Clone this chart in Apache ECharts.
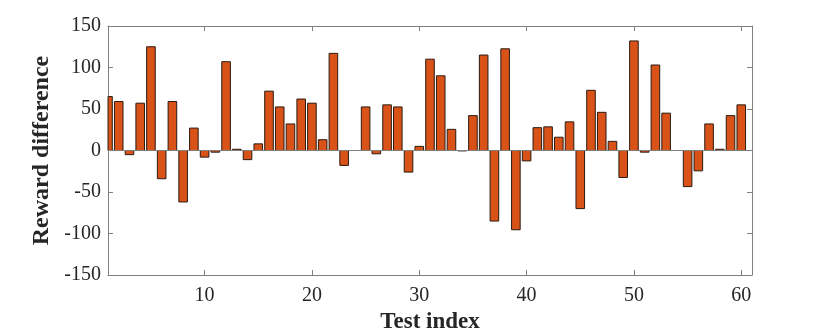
<!DOCTYPE html>
<html>
<head>
<meta charset="utf-8">
<script src="https://cdn.jsdelivr.net/npm/echarts@6/dist/echarts.min.js"></script>
<style>
  html, body { margin: 0; padding: 0; background: #fff; }
  #chart { width: 831px; height: 335px; }
</style>
</head>
<body>
<div id="chart"></div>
<script>
// test index 1..60
const testIndex = [
  1, 2, 3, 4, 5, 6, 7, 8, 9, 10,
  11, 12, 13, 14, 15, 16, 17, 18, 19, 20,
  21, 22, 23, 24, 25, 26, 27, 28, 29, 30,
  31, 32, 33, 34, 35, 36, 37, 38, 39, 40,
  41, 42, 43, 44, 45, 46, 47, 48, 49, 50,
  51, 52, 53, 54, 55, 56, 57, 58, 59, 60
]
// reward difference
const rewardDiff = [
  65, 59, -5, 57, 125, -34, 59, -62, 27, -8,
  -2, 107, 1.5, -11, 8, 71.5, 52.5, 32, 62, 57,
  13, 117, -18, 0, 52.5, -4, 55, 52.5, -26, 5,
  110, 90, 25.5, -0.5, 42, 115, -85, 122.5, -95.5, -12.5,
  27.5, 28.5, 16, 34.5, -70, 72.5, 46, 11, -32.5, 132,
  -2, 103, 45, 0, -43.5, -24.5, 32, 1.5, 42, 55
]
const xTicks = [10, 20, 30, 40, 50, 60]

const axisGrey = '#808080'
const textColor = '#262626'
const serif = '"Liberation Serif", "DejaVu Serif", serif'
const barHalf = 0.4   // bar width 0.8 in x units, like matlab bar()

function addChart(dom, option) {
    let myChart = echarts.init(dom);
    myChart.setOption(option);
    window.addEventListener("resize", function () {
        myChart.resize();
    });
    return myChart;
}

let barData = testIndex.map((x, i) => [x, rewardDiff[i]])

// bars as custom rects so the first one gets cut at the axis like the original
function renderBar(params, api) {
    let x = api.value(0)
    let y = api.value(1)
    if (y === 0) return null
    let p0 = api.coord([x - barHalf, 0])
    let p1 = api.coord([x + barHalf, y])
    let rect = {
        x: p0[0],
        y: Math.min(p0[1], p1[1]),
        width: p1[0] - p0[0],
        height: Math.abs(p1[1] - p0[1])
    }
    let cs = params.coordSys
    let shape = echarts.graphic.clipRectByRect(rect, { x: cs.x, y: cs.y, width: cs.width, height: cs.height })
    if (!shape) return null
    return {
        type: 'rect',
        shape: shape,
        style: { fill: '#D95319', stroke: '#2a1a12', lineWidth: 1 }
    }
}

let xCommon = {
    type: 'value',
    min: 1,
    max: 61,
    splitLine: { show: false },
    axisLine: { show: true, onZero: false, lineStyle: { color: axisGrey, width: 1 } },
    axisTick: { show: true, inside: true, length: 5, customValues: xTicks, lineStyle: { color: axisGrey } }
}
let yCommon = {
    type: 'value',
    min: -150,
    max: 150,
    interval: 50,
    splitLine: { show: false },
    axisLine: { show: true, onZero: false, lineStyle: { color: axisGrey, width: 1 } },
    axisTick: { show: true, inside: true, length: 5, lineStyle: { color: axisGrey } }
}

let option = {
    animation: false,
    backgroundColor: '#fff',
    grid: { left: 108, right: 79, top: 26, bottom: 60, containLabel: false, outerBoundsMode: 'none' },
    xAxis: [
        Object.assign({}, xCommon, {
            position: 'bottom',
            name: 'Test index',
            nameLocation: 'middle',
            nameGap: 36,
            nameTextStyle: { fontFamily: serif, fontWeight: 'bold', fontSize: 23, color: textColor },
            axisLabel: { customValues: xTicks, margin: 11, fontFamily: serif, fontSize: 20, color: textColor }
        }),
        Object.assign({}, xCommon, {
            position: 'top',
            axisLabel: { show: false }
        })
    ],
    yAxis: [
        Object.assign({}, yCommon, {
            position: 'left',
            name: 'Reward difference',
            nameLocation: 'middle',
            nameGap: 47,
            nameTextStyle: { fontFamily: serif, fontWeight: 'bold', fontSize: 24, color: textColor },
            axisLabel: { margin: 7, fontFamily: serif, fontSize: 20, color: textColor }
        }),
        Object.assign({}, yCommon, {
            position: 'right',
            axisLabel: { show: false }
        })
    ],
    series: [{
        type: 'custom',
        xAxisIndex: 0,
        yAxisIndex: 0,
        data: barData,
        encode: { x: 0, y: 1 },
        renderItem: renderBar,
        z: 3,
        markLine: {
            silent: true,
            symbol: 'none',
            label: { show: false },
            lineStyle: { color: axisGrey, type: 'solid', width: 1 },
            data: [{ yAxis: 0 }]
        }
    }]
}

addChart(document.getElementById('chart'), option)
</script>
</body>
</html>
